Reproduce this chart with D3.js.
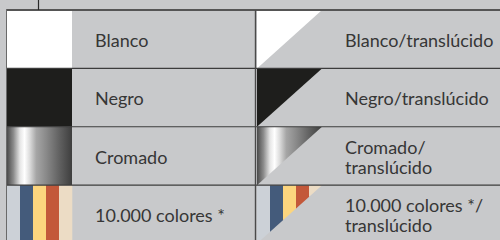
<!DOCTYPE html>
<html><head><meta charset="utf-8">
<script src="https://cdn.jsdelivr.net/npm/d3@7"></script>
<style>html,body{margin:0;padding:0;background:#c8c9cb;overflow:hidden}</style>
</head><body>
<script>
// Data
const rows = ["blanco", "negro", "cromado", "colores"];
const leftLabels = [["Blanco"], ["Negro"], ["Cromado"], ["10.000 colores *"]];
const rightLabels = [["Blanco/translúcido"], ["Negro/translúcido"], ["Cromado/", "translúcido"], ["10.000 colores */", "translúcido"]];
const swatchKinds = ["solid-white", "solid-black", "chrome", "stripes"];
const stripeColors = ["#ccd1d7", "#445b7b", "#fcd57e", "#c3583a", "#ecdcc5"];
const chromeStops = [[0, "#4a4a4a"], [0.1, "#8c8c8c"], [0.2, "#e6e6e6"], [0.27, "#ffffff"], [0.35, "#dcdcdc"], [0.45, "#a6a6a6"], [0.6, "#8a8a8a"], [0.8, "#626262"], [1, "#3e3e3e"]];
const columns = ["opaco", "translucido"];

const W = 500, H = 240;
const svg = d3.select("body").append("svg").attr("width", W).attr("height", H);
const defs = svg.append("defs");

const y = d3.scaleBand().domain(rows).range([10, 243.5]);
const x = d3.scaleBand().domain(columns).range([7, 505]);
const swW = 65;

const grad = defs.append("linearGradient").attr("id", "chrome").attr("x1", 0).attr("x2", 1).attr("y1", 0).attr("y2", 0);
grad.selectAll("stop").data(chromeStops).join("stop").attr("offset", d => d[0]).attr("stop-color", d => d[1]);

svg.append("rect").attr("width", W).attr("height", H).attr("fill", "#c8c9cb");

rows.forEach((r, i) => {
  columns.forEach((c, j) => {
    const x0 = x(c) + (j ? 1 : 0), y0 = y(r), h = y.bandwidth();
    const g = svg.append("g");
    if (j === 1) {
      const id = "clip" + i;
      defs.append("clipPath").attr("id", id).append("polygon")
        .attr("points", `${x0},${y0} ${x0 + swW},${y0} ${x0},${y0 + h}`);
      g.attr("clip-path", `url(#${id})`);
    }
    const kind = swatchKinds[i];
    if (kind === "solid-white" || kind === "solid-black") {
      g.append("rect").attr("x", x0).attr("y", y0).attr("width", swW).attr("height", h)
        .attr("fill", kind === "solid-white" ? "#ffffff" : "#1e1e1c");
    } else if (kind === "chrome") {
      g.append("rect").attr("x", x0).attr("y", y0).attr("width", swW).attr("height", h).attr("fill", "url(#chrome)");
    } else {
      const sx = d3.scaleBand().domain(d3.range(stripeColors.length)).range([x0, x0 + swW]);
      g.selectAll("rect").data(stripeColors).join("rect")
        .attr("x", (d, k) => sx(k)).attr("y", y0).attr("width", sx.bandwidth() + 0.3).attr("height", h)
        .attr("fill", d => d);
    }
    const labels = (j ? rightLabels : leftLabels)[i];
    const cy = y0 + h / 2 + 7.8;
    const lh = 20.4;
    const t = svg.append("text").attr("x", x0 + swW + 23)
      .attr("font-family", "Lato, 'Open Sans', sans-serif").attr("font-size", 18)
      .attr("font-weight", 400).attr("fill", "#363636");
    labels.forEach((l, k) => {
      t.append("tspan").attr("x", x0 + swW + 23).attr("y", cy + (k - (labels.length - 1) / 2) * lh).text(l);
    });
  });
});

// grid lines
svg.selectAll("line.row").data(rows.slice(1)).join("line")
  .attr("x1", 7).attr("x2", W).attr("y1", d => y(d)).attr("y2", d => y(d))
  .attr("stroke", "#3c3c3c").attr("stroke-width", 1.2);
svg.append("line").attr("x1", 6.5).attr("x2", W).attr("y1", 10).attr("y2", 10).attr("stroke", "#555").attr("stroke-width", 1.8);
svg.append("line").attr("x1", 6.5).attr("x2", 6.5).attr("y1", 9).attr("y2", H).attr("stroke", "#6a6a6a").attr("stroke-width", 1);
svg.append("line").attr("x1", 255.5).attr("x2", 255.5).attr("y1", 10).attr("y2", H).attr("stroke", "#4a4a4a").attr("stroke-width", 1.4);
svg.append("line").attr("x1", 38.5).attr("x2", 38.5).attr("y1", 0).attr("y2", 10).attr("stroke", "#2a2a2a").attr("stroke-width", 1.2);
</script>
</body></html>
